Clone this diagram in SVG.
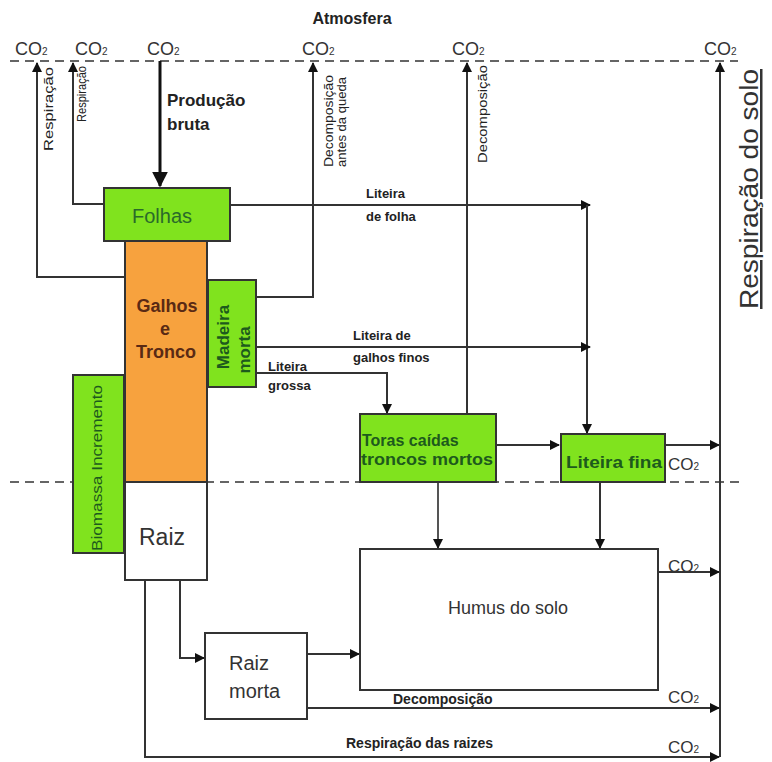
<svg xmlns="http://www.w3.org/2000/svg" width="772" height="762" viewBox="0 0 772 762">
<defs>
<marker id="ah" viewBox="0 0 10 10" refX="9" refY="5" markerWidth="10" markerHeight="10" markerUnits="userSpaceOnUse" orient="auto">
<path d="M0,0 L10,5 L0,10 z" fill="#111"/>
</marker>
<marker id="ahb" viewBox="0 0 10 10" refX="9" refY="5" markerWidth="16" markerHeight="16" markerUnits="userSpaceOnUse" orient="auto">
<path d="M0,0 L10,5 L0,10 z" fill="#111"/>
</marker>
</defs>
<style>
text{font-family:"Liberation Sans",Arial,sans-serif;fill:#222}
.co2{font-size:18px;fill:#333}
.sub{font-size:10px}
.lb{font-size:13px;font-weight:bold}
.vl{font-size:12px;fill:#222}
.green{fill:#80e31e;stroke:#333;stroke-width:2}
.white{fill:#fff;stroke:#333;stroke-width:2}
.gt{font-weight:bold;fill:#1d5a1d}
.c{fill:none;stroke:#333;stroke-width:2}
.ca{fill:none;stroke:#333;stroke-width:2;marker-end:url(#ah)}
.dash{fill:none;stroke:#333;stroke-width:1.5;stroke-dasharray:9,6}
</style>
<rect width="772" height="762" fill="#fff"/>

<g id="labels">
<text x="352" y="24" text-anchor="middle" style="font-size:16px;font-weight:bold">Atmosfera</text>
<text class="co2" x="15" y="55">CO<tspan class="sub">2</tspan></text>
<text class="co2" x="75" y="55">CO<tspan class="sub">2</tspan></text>
<text class="co2" x="147" y="55">CO<tspan class="sub">2</tspan></text>
<text class="co2" x="302" y="55">CO<tspan class="sub">2</tspan></text>
<text class="co2" x="452" y="55">CO<tspan class="sub">2</tspan></text>
<text class="co2" x="704" y="55">CO<tspan class="sub">2</tspan></text>
<text x="167" y="106" style="font-size:17px;font-weight:bold">Produção</text>
<text x="167" y="130" style="font-size:17px;font-weight:bold">bruta</text>
<text class="vl" transform="translate(53,109) rotate(-90)" text-anchor="middle" textLength="84" lengthAdjust="spacingAndGlyphs">Respiração</text>
<text class="vl" transform="translate(86,94) rotate(-90)" text-anchor="middle" textLength="56" lengthAdjust="spacingAndGlyphs">Respiração</text>
<text class="vl" transform="translate(333,121) rotate(-90)" text-anchor="middle" textLength="92" lengthAdjust="spacingAndGlyphs">Decomposição</text>
<text class="vl" transform="translate(346,122) rotate(-90)" text-anchor="middle" textLength="90" lengthAdjust="spacingAndGlyphs">antes da queda</text>
<text class="vl" transform="translate(487,114) rotate(-90)" text-anchor="middle" textLength="98" lengthAdjust="spacingAndGlyphs">Decomposição</text>
<text transform="translate(758,189) rotate(-90)" text-anchor="middle" style="font-size:25px;fill:#333;text-decoration:underline" textLength="240" lengthAdjust="spacingAndGlyphs">Respiração do solo</text>
<text class="lb" x="366" y="198">Liteira</text>
<text class="lb" x="366" y="221">de folha</text>
<text class="lb" x="353" y="340">Liteira de</text>
<text class="lb" x="353" y="362">galhos finos</text>
<text class="lb" x="268" y="371">Liteira</text>
<text class="lb" x="268" y="390">grossa</text>
<text class="co2" x="668" y="470" style="font-size:17px">CO<tspan class="sub">2</tspan></text>
<text class="co2" x="668" y="572" style="font-size:17px">CO<tspan class="sub">2</tspan></text>
<text class="lb" x="393" y="704" style="font-size:14px">Decomposição</text>
<text class="co2" x="668" y="703" style="font-size:17px">CO<tspan class="sub">2</tspan></text>
<text class="lb" x="346" y="748" style="font-size:14px">Respiração das raizes</text>
<text class="co2" x="668" y="753" style="font-size:17px">CO<tspan class="sub">2</tspan></text>
</g>

<g id="dashed-lines">
<line class="dash" x1="10" y1="61" x2="738" y2="61"/>
<line class="dash" x1="10" y1="482" x2="740" y2="482"/>
</g>

<g id="connectors">
<path class="ca" d="M125,277 H37 V63"/>
<path class="ca" d="M104,204 H73 V63"/>
<path d="M160,61 V186" fill="none" stroke="#111" stroke-width="3" marker-end="url(#ahb)"/>
<path class="ca" d="M145,241 V266"/>
<path class="ca" d="M256,297 H313 V63"/>
<path class="ca" d="M230,205 H590"/>
<path class="ca" d="M587,205 V433"/>
<path class="ca" d="M256,347 H590"/>
<path class="ca" d="M256,373 H387 V413"/>
<path class="ca" d="M467,414 V63"/>
<path class="ca" d="M496,445 H559"/>
<path class="ca" d="M665,445 H719"/>
<path class="ca" d="M438,482 V548" style="stroke:#555"/>
<path class="ca" d="M600,482 V548"/>
<path class="ca" d="M658,572 H719"/>
<path class="ca" d="M180,580 V658 H204"/>
<path class="ca" d="M307,654 H359"/>
<path class="ca" d="M307,708 H719"/>
<path class="ca" d="M145,580 V757 H719"/>
<path class="ca" d="M720,757 V63"/>
<path class="ca" d="M180,470 V502"/>
<path class="ca" d="M140,467 H113"/>
<path class="ca" d="M143,506 H115"/>
<path class="ca" d="M198,380 H216"/>
</g>

<g id="folhas">
<rect class="green" x="104" y="188" width="126" height="53"/>
<text x="162" y="223" text-anchor="middle" style="font-size:20px;fill:#2a6a2a">Folhas</text>
</g>
<g id="galhos-tronco">
<rect x="125" y="241" width="82" height="241" fill="#f7a23e" stroke="#333" stroke-width="2"/>
<text x="167" y="312" text-anchor="middle" style="font-size:18px;font-weight:bold;fill:#5a2a14">Galhos</text>
<text x="165" y="335" text-anchor="middle" style="font-size:18px;font-weight:bold;fill:#5a2a14">e</text>
<text x="166" y="358" text-anchor="middle" style="font-size:18px;font-weight:bold;fill:#5a2a14">Tronco</text>
</g>
<g id="madeira-morta">
<rect class="green" x="208" y="280" width="48" height="107"/>
<text class="gt" transform="translate(229,337) rotate(-90)" text-anchor="middle" style="font-size:17px">Madeira</text>
<text class="gt" transform="translate(250,350) rotate(-90)" text-anchor="middle" style="font-size:17px">morta</text>
</g>
<g id="biomassa-incremento">
<rect class="green" x="73" y="375" width="51" height="178"/>
<text class="gt" transform="translate(102,468) rotate(-90)" text-anchor="middle" style="font-size:14px;font-weight:normal" textLength="166" lengthAdjust="spacingAndGlyphs">Biomassa Incremento</text>
</g>
<g id="raiz">
<rect class="white" x="125" y="482" width="82" height="98"/>
<text x="162" y="545" text-anchor="middle" style="font-size:23px;fill:#333">Raiz</text>
</g>
<g id="toras">
<rect class="green" x="360" y="414" width="136" height="68"/>
<text class="gt" x="362" y="446" style="font-size:16px">Toras caídas</text>
<text class="gt" x="361" y="465" style="font-size:16px" textLength="132" lengthAdjust="spacingAndGlyphs">troncos mortos</text>
</g>
<g id="liteira-fina">
<rect class="green" x="561" y="434" width="104" height="48"/>
<text class="gt" x="566" y="468" style="font-size:16px" textLength="96" lengthAdjust="spacingAndGlyphs">Liteira fina</text>
</g>
<g id="humus">
<rect class="white" x="360" y="549" width="298" height="141"/>
<text x="508" y="614" text-anchor="middle" style="font-size:18px;fill:#333">Humus do solo</text>
</g>
<g id="raiz-morta">
<rect class="white" x="205" y="633" width="102" height="86"/>
<text x="229" y="670" style="font-size:20px;fill:#333">Raiz</text>
<text x="229" y="698" style="font-size:20px;fill:#333">morta</text>
</g>
</svg>
